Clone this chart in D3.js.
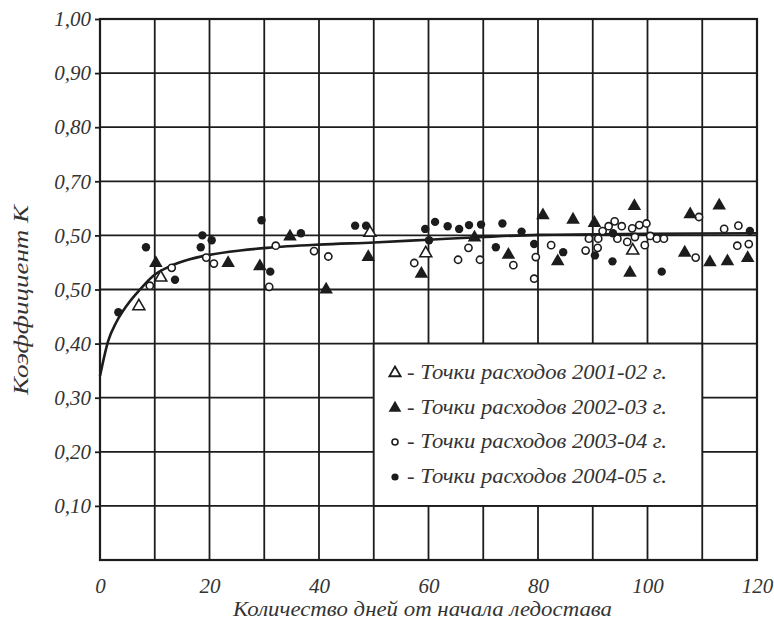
<!DOCTYPE html>
<html><head><meta charset="utf-8">
<script src="https://cdn.jsdelivr.net/npm/d3@7"></script>
<style>body{margin:0;background:#fff}svg{display:block}</style>
</head><body>
<svg id="c" width="774" height="621"></svg>
<script>
const yTickValues = [1.0,0.9,0.8,0.7,0.6,0.5,0.4,0.3,0.2,0.1];
const yTickLabels = ["1,00","0,90","0,80","0,70","0,50","0,50","0,40","0,30","0,20","0,10"];
const xTickValues = [0,20,40,60,80,100,120];
const xTickLabels = ["0","20","40","60","80","100","120"];
const xGrid = [10,20,30,40,50,60,70,80,90,100,110];
const yGrid = [0.1,0.2,0.3,0.4,0.5,0.6,0.7,0.8,0.9];

const curveX = [0,1.5,3,5,7.3,9.7,12.8,16.4,20,25.6,30.5,40,50,60,70,80,100,120];
const curveY = [0.34,0.405,0.44,0.472,0.5,0.525,0.543,0.556,0.564,0.572,0.577,0.583,0.587,0.592,0.597,0.601,0.603,0.604];

const s1X = [7.1,11.1,49.3,59.5,97.3];
const s1Y = [0.469,0.522,0.605,0.567,0.572];
const s2X = [10.2,23.4,29.2,34.7,41.3,49.0,58.7,68.4,74.6,80.9,83.6,86.4,90.3,96.8,97.6,106.8,107.8,111.4,113.1,114.6,118.3];
const s2Y = [0.549,0.549,0.543,0.598,0.500,0.560,0.529,0.596,0.564,0.637,0.552,0.629,0.623,0.531,0.654,0.568,0.639,0.550,0.655,0.552,0.558];
const s3X = [9.1,13.1,19.4,20.8,30.9,32.1,39.1,41.7,57.4,65.4,67.3,69.4,75.5,79.3,79.6,82.4,88.7,89.3,90.9,91.0,91.8,92.9,94.0,94.5,95.3,96.3,97.2,97.7,98.5,99.5,99.8,100.5,101.7,103.0,108.8,109.4,114.0,116.4,116.6,118.5];
const s3Y = [0.507,0.540,0.559,0.548,0.505,0.581,0.571,0.561,0.549,0.555,0.577,0.555,0.545,0.520,0.560,0.582,0.572,0.594,0.577,0.594,0.608,0.617,0.626,0.594,0.617,0.588,0.613,0.597,0.619,0.582,0.622,0.599,0.594,0.594,0.559,0.634,0.612,0.581,0.618,0.584];
const s4X = [3.35,8.4,13.7,18.4,18.7,20.4,29.5,31.1,36.7,46.6,48.6,59.4,60.1,61.2,63.5,65.6,67.4,69.6,72.3,73.5,77.0,79.3,84.6,90.4,93.6,93.7,102.6,118.7];
const s4Y = [0.458,0.578,0.518,0.578,0.600,0.591,0.628,0.533,0.604,0.618,0.618,0.612,0.591,0.625,0.617,0.612,0.619,0.620,0.578,0.622,0.607,0.584,0.569,0.563,0.552,0.604,0.533,0.608];

const legendLabels = ["- Точки расходов 2001-02 г.","- Точки расходов 2002-03 г.","- Точки расходов 2003-04 г.","- Точки расходов 2004-05 г."];
const xTitle = "Количество дней от начала ледостава";
const yTitle = "Коэффициент К";

const svg = d3.select("#c");
const ink = "#1c1c1c";
const font = "'Liberation Serif','Times New Roman',serif";
const x = d3.scaleLinear().domain([0,120]).range([100,757]);
const y = d3.scaleLinear().domain([0,1]).range([560,19]);

// grid
const g = svg.append("g");
g.selectAll(".vx").data(xGrid).join("line")
  .attr("x1",d=>x(d)).attr("x2",d=>x(d)).attr("y1",y(0)).attr("y2",y(1))
  .attr("stroke",ink).attr("stroke-width",1.8);
g.selectAll(".hy").data(yGrid).join("line")
  .attr("x1",x(0)).attr("x2",x(120)).attr("y1",d=>y(d)).attr("y2",d=>y(d))
  .attr("stroke",ink).attr("stroke-width",1.8);

// legend box (white area bounded by grid lines)
svg.append("rect").attr("x",x(50)).attr("y",y(0.4)).attr("width",x(110)-x(50)).attr("height",y(0.1)-y(0.4))
  .attr("fill","#fff").attr("stroke",ink).attr("stroke-width",1.8);

// frame
svg.append("rect").attr("x",x(0)).attr("y",y(1)).attr("width",x(120)-x(0)).attr("height",y(0)-y(1))
  .attr("fill","none").attr("stroke",ink).attr("stroke-width",2.2);

// axes
const yAxis = d3.axisLeft(y).tickValues(yTickValues).tickSize(5).tickPadding(4)
  .tickFormat((d,i)=>yTickLabels[i]);
const ya = svg.append("g").attr("transform",`translate(${x(0)},0)`).call(yAxis);
ya.select(".domain").remove();
ya.selectAll("line").attr("stroke",ink).attr("stroke-width",1.8);
ya.selectAll("text").attr("font-family",font).attr("font-style","italic").attr("font-size",21).attr("fill","#333");

const xAxis = d3.axisBottom(x).tickValues(xTickValues).tickSize(0).tickPadding(18)
  .tickFormat((d,i)=>xTickLabels[i]);
const xa = svg.append("g").attr("transform",`translate(0,${y(0)})`).call(xAxis);
xa.select(".domain").remove();
xa.selectAll("text").attr("font-family",font).attr("font-style","italic").attr("font-size",21).attr("fill","#333");

svg.append("text").attr("x",233).attr("y",616)
  .attr("textLength",379).attr("lengthAdjust","spacingAndGlyphs")
  .attr("font-family",font).attr("font-style","italic").attr("font-size",20).attr("fill","#333").text(xTitle);
svg.append("text").attr("transform","translate(28,395) rotate(-90)")
  .attr("textLength",190).attr("lengthAdjust","spacingAndGlyphs")
  .attr("font-family",font).attr("font-style","italic").attr("font-size",20).attr("fill","#333").text(yTitle);

// curve
const pts = curveX.map((d,i)=>[d,curveY[i]]);
svg.append("path").datum(pts)
  .attr("d",d3.line().x(d=>x(d[0])).y(d=>y(d[1])).curve(d3.curveMonotoneX))
  .attr("fill","none").attr("stroke",ink).attr("stroke-width",2.6);

const tri = d3.symbol().type(d3.symbolTriangle);
function triPath(size){ return tri.size(size)(); }

const toPts = (xs,ys)=>xs.map((d,i)=>[d,ys[i]]);
// open circles
svg.append("g").selectAll("circle").data(toPts(s3X,s3Y)).join("circle")
  .attr("cx",d=>x(d[0])).attr("cy",d=>y(d[1])).attr("r",3.6)
  .attr("fill","#fff").attr("stroke",ink).attr("stroke-width",1.6);
// filled circles
svg.append("g").selectAll("circle").data(toPts(s4X,s4Y)).join("circle")
  .attr("cx",d=>x(d[0])).attr("cy",d=>y(d[1])).attr("r",4.2).attr("fill",ink);
// open triangles
svg.append("g").selectAll("path").data(toPts(s1X,s1Y)).join("path")
  .attr("d",triPath(62)).attr("transform",d=>`translate(${x(d[0])},${y(d[1])})`)
  .attr("fill","#fff").attr("stroke",ink).attr("stroke-width",1.6);
// filled triangles
svg.append("g").selectAll("path").data(toPts(s2X,s2Y)).join("path")
  .attr("d",triPath(80)).attr("transform",d=>`translate(${x(d[0])},${y(d[1])})`)
  .attr("fill",ink);

// legend
const lx = 395, ly = [373,408,442,477];
const leg = svg.append("g");
leg.append("path").attr("d",triPath(55)).attr("transform",`translate(${lx},${ly[0]})`)
  .attr("fill","#fff").attr("stroke",ink).attr("stroke-width",1.8);
leg.append("path").attr("d",triPath(70)).attr("transform",`translate(${lx},${ly[1]})`).attr("fill",ink);
leg.append("circle").attr("cx",lx).attr("cy",ly[2]).attr("r",3).attr("fill","#fff").attr("stroke",ink).attr("stroke-width",1.6);
leg.append("circle").attr("cx",lx).attr("cy",ly[3]).attr("r",3.6).attr("fill",ink);
leg.selectAll("text").data(legendLabels).join("text")
  .attr("x",407).attr("y",(d,i)=>ly[i]+6)
  .attr("textLength",260).attr("lengthAdjust","spacingAndGlyphs")
  .attr("font-family",font).attr("font-style","italic").attr("font-size",20).attr("fill","#333").text(d=>d);
</script>
</body></html>
